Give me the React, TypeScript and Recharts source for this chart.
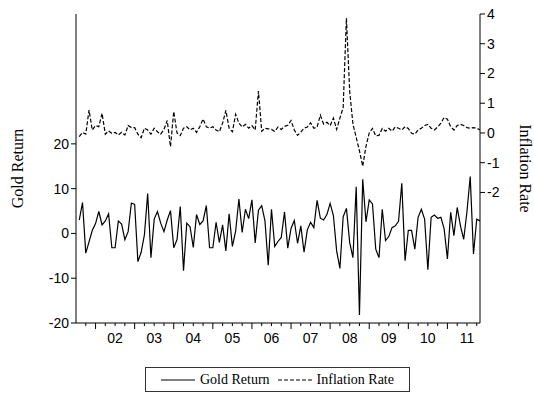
import React from "react"
import { Line, LineChart, XAxis, YAxis } from "recharts"

// monthly observations, 2001M08 .. 2011M11 (index 0 = 2001M07)
const goldReturn = [
  3.0, 6.9, -4.4, -1.9, 0.7, 2.2, 4.9, 1.9, 2.8, 4.4, -3.2, -3.2,
  2.8, 2.1, -1.4, 0.4, 6.8, 6.5, -6.3, -4.2, -0.3, 8.9, -5.4, 3.2,
  4.9, 2.3, 0.4, 3.0, 5.1, -3.2, -1.4, 6.0, -8.3, 2.3, 1.5, -3.1,
  4.2, 2.0, 2.8, 6.2, -3.2, -3.2, 2.5, -2.0, 1.9, -3.9, 4.4, -2.9,
  0.5, 7.7, 0.2, 5.4, 3.3, 7.5, -2.1, 5.2, 6.2, 2.8, -7.1, 5.4,
  -2.9, -1.8, -0.9, 4.8, -3.3, 1.1, 2.9, -2.2, 1.7, -4.2, 0.8, 2.5,
  1.3, 7.4, 3.4, 3.0, 4.2, 6.7, 4.0, -3.9, -7.8, 3.7, 5.6, -2.0,
  -5.4, 10.4, -18.2, 12.1, 2.6, 7.5, 6.6, -3.5, -5.4, 5.4, -1.6, -0.7,
  1.3, 1.7, 2.7, 11.2, -6.1, 0.7, 0.7, -3.5, 3.6, 5.4, 3.2, -8.1,
  3.6, 4.1, 3.4, 3.6, 1.0, -5.7, 4.7, -0.5, 5.8, 1.7, -1.3, 4.9,
  12.7, -4.6, 3.2, 2.8,
]

const inflationRate = [
  -0.12, 0.02, -0.04, 0.77, 0.1, 0.25, 0.21, 0.66, -0.04, 0.07, -0.01, 0.02,
  -0.07, 0.02, -0.07, 0.25, 0.18, 0.18, -0.04, -0.16, 0.16, 0.1, -0.04, 0.16,
  0.04, -0.04, 0.12, 0.42, -0.46, 0.72, 0.0, -0.09, 0.16, 0.21, 0.1, 0.16,
  0.02, 0.21, 0.47, 0.21, 0.16, 0.21, 0.1, 0.04, 0.33, 0.76, 0.16, 0.04,
  0.63, 0.33, 0.2, 0.29, 0.16, 0.25, 0.1, 1.41, 0.06, 0.16, 0.14, 0.12,
  0.05, 0.2, 0.12, 0.22, 0.26, 0.42, 0.1, -0.08, 0.03, 0.16, 0.2, 0.34,
  0.16, 0.2, 0.6, 0.3, 0.36, 0.25, 0.5, 0.12, 0.5, 0.85, 3.86, 1.4,
  0.3, -0.15, -0.6, -1.12, -0.45, 0.0, 0.15, -0.1, -0.08, 0.15, 0.06, 0.16,
  0.06, 0.2, 0.16, 0.1, 0.21, 0.15, -0.01, -0.04, 0.1, 0.16, 0.25, 0.29,
  0.16, 0.1, 0.2, 0.33, 0.52, 0.46, 0.21, 0.1, 0.25, 0.29, 0.25, 0.18,
  0.16, 0.18, 0.16, 0.1,
]

const yearLabels = ["02", "03", "04", "05", "06", "07", "08", "09", "10", "11"]
const leftTicks = [-20, -10, 0, 10, 20]
const rightTicks = [-2, -1, 0, 1, 2, 3, 4]

const data = goldReturn.map((g, i) => ({ idx: i + 1, gold: g, infl: inflationRate[i] }))
const quarterTicks = Array.from({ length: 41 }, (_, i) => 3 + i * 3)

const sans = "'Liberation Sans', Arial, sans-serif"
const serif = "'Liberation Serif', 'Times New Roman', serif"

function MonthTick(props: any) {
  const { x, y, payload } = props
  const v = payload.value
  const major = (v - 6) % 12 === 0
  const labelIdx = (v - 12) / 12
  const label = Number.isInteger(labelIdx) ? yearLabels[labelIdx] : null
  return (
    <g>
      <line x1={x} y1={y} x2={x} y2={y + (major ? 6 : 3)} stroke="#000" />
      {label && (
        <text x={x} y={y + 20} textAnchor="middle" fontSize={14} fontFamily={sans} fill="#000">
          {label}
        </text>
      )}
    </g>
  )
}

function AxisTitle(props: any) {
  const { viewBox, text, side } = props
  const cx = side === "left" ? viewBox.x + 17 : viewBox.x + 45
  const cy = viewBox.y + viewBox.height / 2
  return (
    <text
      x={cx}
      y={cy}
      transform={`rotate(${side === "left" ? -90 : 90} ${cx} ${cy})`}
      textAnchor="middle"
      dominantBaseline="central"
      fontSize={16}
      fontFamily={serif}
      fill="#000"
    >
      {text}
    </text>
  )
}

export default function App() {
  return (
    <div style={{ position: "absolute", left: 0, top: 0, width: 534, height: 394, background: "#fff" }}>
      <LineChart width={534} height={394} data={data} margin={{ top: 14, right: 0, bottom: 51, left: 0 }}>
        <XAxis
          dataKey="idx"
          type="number"
          domain={[0, 124]}
          ticks={quarterTicks}
          interval={0}
          tickSize={0}
          tickMargin={0}
          tickLine={false}
          tick={<MonthTick />}
          height={20}
          axisLine={{ stroke: "#000" }}
        />
        <XAxis
          xAxisId="top"
          dataKey="idx"
          type="number"
          domain={[0, 124]}
          orientation="top"
          tick={false}
          tickLine={false}
          height={0}
          axisLine={{ stroke: "#000" }}
        />
        <YAxis
          yAxisId="left"
          width={76}
          domain={[-20, 49]}
          ticks={leftTicks}
          interval={0}
          tickSize={5}
          tickMargin={2}
          tick={{ fontSize: 14, fontFamily: sans, fill: "#000" }}
          tickLine={{ stroke: "#000" }}
          axisLine={{ stroke: "#000" }}
          label={<AxisTitle text="Gold Return" side="left" />}
        />
        <YAxis
          yAxisId="right"
          orientation="right"
          width={54}
          domain={[-6.39, 4]}
          ticks={rightTicks}
          interval={0}
          tickSize={5}
          tickMargin={2}
          tick={{ fontSize: 14, fontFamily: sans, fill: "#000" }}
          tickLine={{ stroke: "#000" }}
          axisLine={{ stroke: "#000" }}
          label={<AxisTitle text="Inflation Rate" side="right" />}
        />
        <Line yAxisId="left" type="linear" dataKey="gold" stroke="#000" strokeWidth={1.2} dot={false} isAnimationActive={false} />
        <Line
          yAxisId="right"
          type="linear"
          dataKey="infl"
          stroke="#000"
          strokeWidth={1.2}
          strokeDasharray="4 2"
          dot={false}
          isAnimationActive={false}
        />
      </LineChart>
      <div
        style={{
          position: "absolute",
          left: 145,
          top: 367,
          width: 265,
          height: 25,
          boxSizing: "border-box",
          border: "1px solid #333",
          display: "flex",
          alignItems: "center",
          justifyContent: "center",
          fontFamily: serif,
          fontSize: 14,
          color: "#000",
        }}
      >
        <svg width={34} height={4} style={{ marginRight: 5 }}>
          <line x1={0} y1={2} x2={34} y2={2} stroke="#000" strokeWidth={1.2} />
        </svg>
        <span>Gold Return</span>
        <svg width={34} height={4} style={{ marginLeft: 8, marginRight: 5 }}>
          <line x1={0} y1={2} x2={34} y2={2} stroke="#000" strokeWidth={1.2} strokeDasharray="4 2" />
        </svg>
        <span>Inflation Rate</span>
      </div>
    </div>
  )
}
